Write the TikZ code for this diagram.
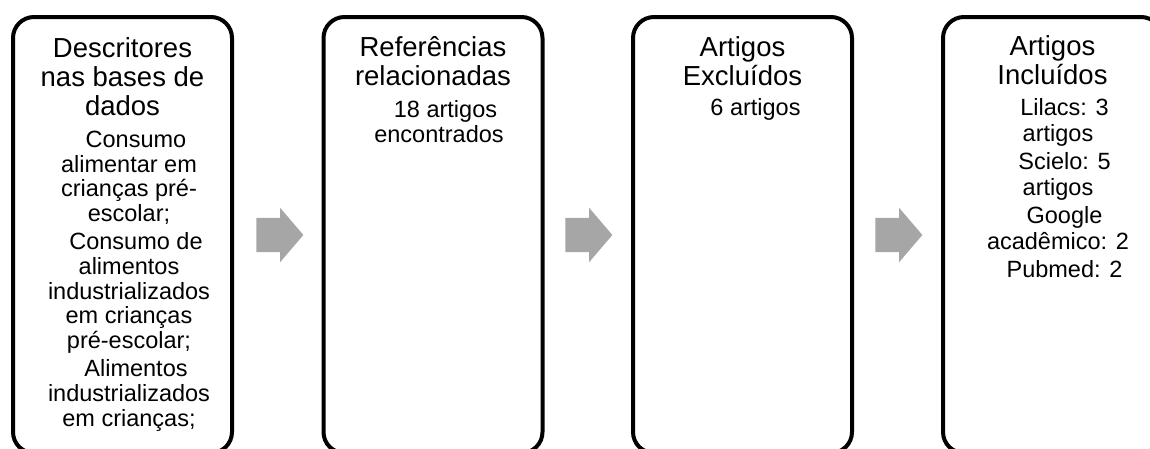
\documentclass[tikz,border=0pt]{standalone}
\usepackage{fontspec}
\setmainfont{Liberation Sans}
\usetikzlibrary{shapes.arrows}
\definecolor{cinza}{RGB}{166,166,166}

\begin{document}
\begin{tikzpicture}[x=1pt, y=-1pt,
  caixa/.style={draw, line width=4pt, rounded corners=21pt, minimum width=219pt, minimum height=436pt, inner sep=0pt},
  titulo/.style={anchor=base, align=center, inner sep=0pt, font=\fontsize{27.5}{29}\selectfont},
  corpo/.style={anchor=base, align=center, inner sep=0pt, font=\fontsize{23.5}{24.7}\selectfont},
  seta/.style={single arrow, fill=cinza, draw=none, minimum width=54pt, minimum height=47pt, single arrow head extend=10pt, single arrow tip angle=99, inner xsep=0pt, inner ysep=17pt}]
  \useasboundingbox (0,0) rectangle (1150,448);
  \node[caixa] (desc) at (122.5,235) {};
  \node[caixa] (ref) at (433,235) {};
  \node[caixa] (excl) at (742.5,235) {};
  \node[caixa] (incl) at (1052.5,235) {};
  \node[seta] (s1) at (272.5,235) {};
  \node[seta] (s2) at (581.5,235) {};
  \node[seta] (s3) at (891.5,235) {};
  \node[titulo] (desct) at (122.5,115) {Descritores\\nas bases de\\dados};
  \node[corpo] (descb) at (129,426) {\hspace*{14pt}Consumo\\alimentar em\\crianças pré-\\escolar;\\[3.5pt]
    \hspace*{14pt}Consumo de\\alimentos\\industrializados\\em crianças\\pré-escolar;\\[3.5pt]
    \hspace*{14pt}Alimentos\\industrializados\\em crianças;};
  \node[titulo] (reft) at (433,85) {Referências\\relacionadas};
  \node[corpo] (refb) at (439,142) {\hspace*{13pt}18 artigos\\encontrados};
  \node[titulo] (exclt) at (742.5,85) {Artigos\\Excluídos};
  \node[corpo] (exclb) at (749,115) {\hspace*{13pt}6 artigos};
  \node[titulo] (inclt) at (1052.5,84) {Artigos\\Incluídos};
  \node[corpo, font=\fontsize{23.5}{26.25}\selectfont] (inclb) at (1058,277) {\hspace*{13pt}Lilacs: 3\\artigos\\[1.5pt]
    \hspace*{13pt}Scielo: 5\\artigos\\[1.5pt]
    \hspace*{13pt}Google\\acadêmico: 2\\[1.5pt]
    \hspace*{13pt}Pubmed: 2};
\end{tikzpicture}
\end{document}
